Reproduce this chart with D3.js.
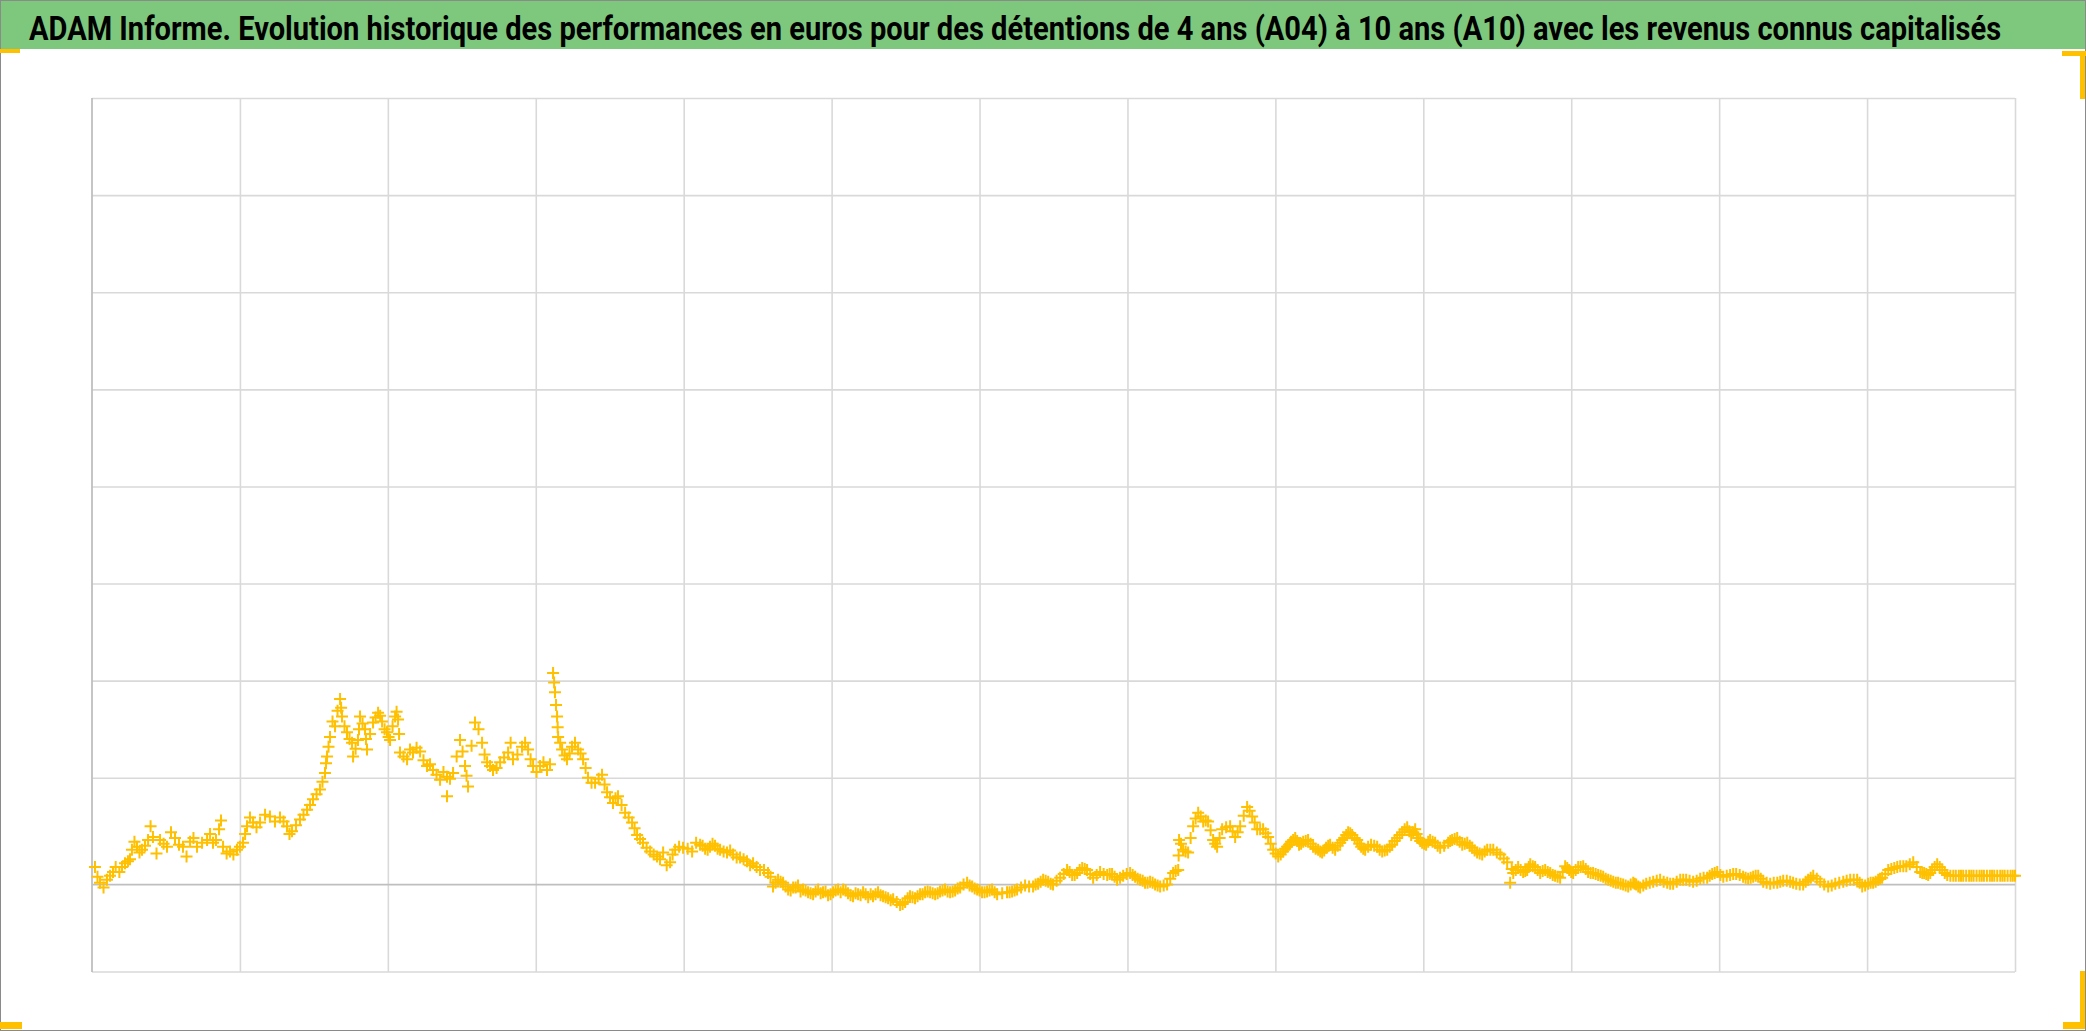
<!DOCTYPE html>
<html>
<head>
<meta charset="utf-8">
<script src="https://cdn.jsdelivr.net/npm/d3@7"></script>
<style>
  html, body { margin: 0; padding: 0; background: #ffffff; }
  svg { display: block; }
</style>
</head>
<body>
<svg id="chart" width="2086" height="1031"></svg>
<script>
// ---------- DATA ----------
const title = "ADAM Informe. Evolution historique des performances en euros pour des détentions de 4 ans (A04) à 10 ans (A10) avec les revenus connus capitalisés";

// time (years since start) of each observation — first reading pass
const years = [
  0.020,0.054,0.101,0.142,0.203,0.243,0.270,0.304,0.338,0.379,
  0.412,0.460,0.507,0.561,0.615,0.663,0.710,0.778,0.818,0.859,
  0.886,0.933,0.980,1.021,1.048,1.089,1.136,1.203,1.271,1.318,
  1.352,1.406,1.454,1.494,1.541,1.575,1.589,1.609,1.643,1.677,
  1.690,1.724,1.758,1.765,1.798,1.812,1.846,1.859,1.900,1.934,
  1.961,1.994,2.015,2.049,2.069,2.082,2.130,2.170,2.218,2.265,
  2.305,2.353,2.400,2.441,2.488,2.522,2.542,2.589,2.637,2.671,
  2.711,2.759,2.813,2.846,2.907,2.948,2.982,3.029,3.076,
  3.117,3.130,3.144,3.151,3.178,3.211,3.245,3.286,3.320,3.353,
  3.401,3.448,3.482,3.522,3.556,3.604,3.651,3.685,3.725,3.773,
  3.820,3.861,3.908,3.942,3.996,4.057,4.111,4.145,4.178,4.212,
  4.246,4.293,4.334,4.381,4.428,4.469,4.516,4.570,4.604,4.638,
  4.672,4.706,4.740,4.773,4.807,4.841,4.875,4.909,4.942,4.976,
  5.010,5.044,5.078,5.111,5.145,5.179,5.213,5.247,5.280,5.314,
  5.348,5.382,5.416,5.463,5.497,5.530,5.564,5.598,5.632,5.666,
  5.700,5.733,5.767,5.801,5.835,5.869,5.916,5.950,5.984,6.017,
  6.051,6.085,6.119,6.186,6.220,6.254,6.308,6.362,6.396,6.430,
  6.464,6.497,6.545,6.592,6.626,6.660,6.694,6.727,6.768,6.815,
  6.863,6.896,6.930,6.971,7.018,7.052,7.086,7.119,7.153,7.187,
  7.221,7.268,7.309,7.343,7.349,7.376,7.410,7.444,7.478,7.512,
  7.545,7.579,7.606,7.640,7.694,7.728,7.762,7.809,7.843,7.877,
  7.917,7.951,7.985,8.019,8.052,8.079,8.106,8.134,8.160,8.188,
  8.221,8.255,8.289,8.316,8.343,8.370,8.404,8.438,8.465,8.492,
  8.519,8.553,8.580,8.607,8.647,8.688,8.722,8.756,8.789,8.823,
  8.857,8.891,8.918,8.945,8.965,8.992,9.019,9.046,9.080,9.114,
  9.168,9.195,9.229,9.263,9.297,9.330,9.364,9.398,9.432,9.473,
  9.520,9.567,9.587,9.608,9.641,9.675,9.702,9.723,9.756,9.790,
  9.824,9.858,9.891,9.925,9.959,9.986,10.013,10.047,10.081,10.114,
  10.148,10.182,10.216,10.250,10.284,10.317,10.351,10.385,10.419,10.439,
  10.466,10.507,10.554,10.601,10.649,10.689,10.737,10.777,10.824,10.872,
  10.919,10.953,10.987,11.028,11.074,11.115,11.162,11.196,11.230,11.264,
  11.298,11.345,11.393,11.433,11.480,11.521,11.568,11.602,11.636,11.683,
  11.737,11.785,11.839,11.886,11.933,11.967,12.007,12.041,12.075,12.102,
  12.143,12.184,12.224,12.265,12.312,12.359,12.386,12.413,12.440,12.474,
  12.508,12.542,12.583,12.620,12.650,12.690,12.720,12.760,12.790,12.830,
  12.860,12.900,12.930,12.970,13.000
];

// performance (%) of each observation — first reading pass
const perf = [
  1.8,0.2,0.5,1.3,1.8,2.4,3.6,3.9,3.6,4.6,
  4.9,4.6,3.9,4.8,3.9,4.4,3.9,4.6,4.3,5.7,
  3.9,3.4,3.6,4.3,6.0,6.4,6.4,7.0,6.9,6.0,
  5.5,6.7,7.7,8.8,9.8,11.5,13.2,15.2,16.3,19.1,
  17.3,15.7,14.6,13.2,14.9,17.3,16.0,13.9,16.7,17.7,
  16.8,15.7,14.9,17.3,17.0,13.6,12.9,13.6,13.7,12.2,
  11.8,10.8,11.1,11.5,14.9,12.2,10.1,16.7,14.6,12.6,
  11.8,12.6,13.6,12.9,14.2,13.9,12.2,12.2,11.8,
  21.8,19.8,17.3,15.2,13.9,12.9,14.2,13.9,12.9,11.0,
  10.5,11.3,9.5,8.4,9.1,7.4,6.4,5.1,4.3,3.4,
  2.9,3.3,2.3,3.6,3.8,3.4,4.1,3.7,3.9,4.0,
  3.6,3.3,3.1,2.8,2.4,2.2,1.5,1.2,-0.2,0.5,
  0.2,-0.5,-0.3,-0.1,-0.5,-0.8,-1.0,-0.5,-0.8,-1.1,
  -0.8,-0.5,-0.5,-0.9,-1.2,-1.0,-0.8,-1.3,-1.2,-0.8,
  -1.2,-1.4,-1.5,-2.1,-1.8,-1.2,-1.4,-1.0,-0.8,-0.8,
  -1.0,-0.7,-0.5,-0.8,-0.6,-0.3,0.2,-0.2,-0.5,-0.8,
  -0.7,-0.5,-1.0,-0.8,-0.7,-0.5,-0.1,-0.2,0.1,0.5,
  0.3,0.0,0.7,1.5,1.0,1.2,1.7,1.5,0.7,1.3,
  1.0,1.1,0.5,0.9,1.2,0.8,0.5,0.2,0.3,0.0,
  -0.2,0.0,1.2,1.5,4.6,3.6,3.3,6.0,7.4,6.5,
  6.5,4.6,3.9,5.7,6.0,4.9,6.0,8.0,7.0,5.7,
  5.7,4.9,3.6,2.9,3.4,3.9,4.4,4.8,4.1,4.4,
  4.6,3.9,3.6,3.3,3.8,4.1,3.6,4.3,4.8,5.4,
  5.1,4.6,3.9,3.6,4.1,3.9,3.4,3.6,4.1,4.8,
  5.4,5.9,5.1,5.7,4.8,4.3,4.1,4.6,4.3,3.8,
  4.3,4.6,4.8,4.1,4.3,3.8,3.3,3.1,3.6,3.6,
  3.1,2.3,0.2,1.2,1.8,1.3,1.5,2.1,1.8,1.2,
  1.5,1.2,0.9,0.7,1.9,1.5,1.2,1.8,1.9,1.3,
  1.2,1.0,0.8,0.5,0.3,0.2,0.0,-0.2,0.2,0.0,
  -0.3,0.1,0.3,0.5,0.2,0.1,0.5,0.5,0.3,0.6,
  0.7,1.1,1.3,0.8,1.0,1.1,0.8,0.6,0.8,0.9,
  0.3,0.1,0.2,0.4,0.3,0.1,0.0,0.5,0.9,0.3,
  -0.2,0.1,0.3,0.5,0.5,-0.2,0.1,0.2,0.5,0.7,
  1.5,1.7,1.9,1.9,2.3,1.3,1.2,1.0,1.5,2.1,
  1.5,1.0,0.9,0.9,0.9,0.9,0.9,0.9,0.9,0.9,
  0.9,0.9,0.9,0.9,0.9
];

// additional observations read between the first ones — second reading pass
const yearsB = [
  0.037,0.078,0.122,0.160,0.185,0.223,0.257,0.287,0.321,0.358,
  0.396,0.436,0.484,0.534,0.588,0.639,0.686,0.744,0.798,0.838,
  0.872,0.910,0.956,1.000,1.035,1.068,1.112,1.170,1.237,1.295,
  1.335,1.379,1.430,1.474,1.518,1.558,1.582,1.599,1.626,1.660,
  1.684,1.707,1.741,1.782,1.805,1.829,1.852,1.880,1.917,1.948,
  1.978,2.005,2.032,2.059,2.076,2.106,2.150,2.194,2.241,2.285,
  2.329,2.376,2.400,2.420,2.465,2.505,2.532,2.566,2.613,2.654,
  2.691,2.735,2.786,2.830,2.876,2.928,2.965,3.005,3.052,3.096,
  3.124,3.137,3.148,3.165,3.195,3.228,3.265,3.303,3.337,3.377,
  3.425,3.465,3.502,3.539,3.580,3.628,3.668,3.705,3.749,3.797,
  3.840,3.885,3.925,3.969,4.027,4.084,4.128,4.162,4.195,4.229,
  4.270,4.314,4.358,4.405,4.449,4.493,4.543,4.587,4.621,4.655,
  4.689,4.723,4.757,4.790,4.824,4.858,4.892,4.926,4.959,4.993,
  5.027,5.061,5.095,5.128,5.162,5.196,5.230,5.264,5.297,5.331,
  5.365,5.399,5.440,5.480,5.514,5.547,5.581,5.615,5.649,5.683,
  5.717,5.750,5.784,5.818,5.852,5.892,5.933,5.967,6.000,6.034,
  6.068,6.102,6.153,6.203,6.237,6.281,6.335,6.379,6.413,6.447,
  6.481,6.521,6.569,6.609,6.643,6.677,6.711,6.748,6.792,6.839,
  6.880,6.913,6.950,6.995,7.035,7.069,7.103,7.136,7.170,7.204,
  7.245,7.289,7.326,7.346,7.362,7.393,7.427,7.461,7.495,7.529,
  7.562,7.593,7.623,7.667,7.711,7.745,7.786,7.826,7.860,7.897,
  7.934,7.968,8.002,8.036,8.066,8.093,8.120,8.147,8.174,8.205,
  8.238,8.272,8.303,8.330,8.357,8.387,8.421,8.452,8.479,8.506,
  8.536,8.567,8.594,8.627,8.668,8.705,8.739,8.773,8.806,8.840,
  8.874,8.905,8.932,8.955,8.979,9.006,9.033,9.063,9.097,9.141,
  9.182,9.212,9.246,9.280,9.314,9.347,9.381,9.415,9.453,9.497,
  9.544,9.598,9.625,9.658,9.689,9.713,9.740,9.773,9.807,9.841,
  9.875,9.908,9.942,9.973,10.000,10.030,10.064,10.098,10.131,10.165,
  10.199,10.233,10.267,10.301,10.334,10.368,10.402,10.429,10.453,10.487,
  10.531,10.578,10.625,10.669,10.713,10.757,10.800,10.848,10.895,10.936,
  10.970,11.008,11.051,11.095,11.139,11.179,11.213,11.247,11.281,11.321,
  11.369,11.413,11.457,11.500,11.545,11.585,11.619,11.660,11.710,11.761,
  11.812,11.862,11.910,11.950,11.987,12.024,12.058,12.088,12.123,12.164,
  12.204,12.245,12.289,12.336,12.373,12.400,12.427,12.457,12.491,12.525,
  12.563,12.600,12.635,12.670,12.705,12.740,12.775,12.810,12.845,12.880,
  12.915,12.950,12.985
];

const perfB = [
  0.8,-0.3,0.9,1.8,1.3,2.2,2.6,4.4,3.3,4.0,
  6.0,3.2,4.2,5.4,4.1,2.9,4.8,4.3,5.2,4.6,
  6.6,3.2,3.1,3.9,5.2,6.9,5.9,7.2,6.5,6.5,
  5.2,6.1,7.2,8.2,9.3,10.6,12.5,14.2,16.8,17.9,
  18.2,16.3,15.0,14.0,16.0,16.6,15.0,15.5,17.2,17.4,
  16.0,15.2,16.3,17.8,15.5,13.2,13.9,14.1,12.8,12.4,
  11.3,11.6,9.1,10.9,13.2,13.7,11.2,14.3,16.0,13.4,
  12.2,12.0,13.1,14.6,13.4,14.6,12.9,11.6,12.6,12.4,
  20.8,18.5,16.2,14.6,13.3,13.5,14.6,13.5,12.0,10.5,
  10.9,10.3,9.0,8.9,8.2,6.9,5.8,4.7,3.8,3.1,
  2.6,2.0,3.1,3.9,3.7,4.3,4.0,3.6,4.2,3.7,
  3.4,3.5,2.8,2.6,2.0,1.8,1.5,0.8,0.2,0.3,
  -0.2,-0.6,-0.3,-0.7,-0.6,-0.9,-0.7,-0.9,-0.7,-1.0,
  -0.6,-0.8,-0.6,-1.1,-0.9,-1.1,-1.0,-1.0,-1.0,-1.1,
  -1.3,-1.6,-1.8,-2.0,-1.4,-1.3,-1.2,-1.0,-0.7,-0.9,
  -0.9,-0.6,-0.7,-0.7,-0.4,0.0,-0.1,-0.4,-0.6,-0.8,
  -0.6,-0.8,-0.9,-0.8,-0.6,-0.3,-0.2,0.0,0.3,0.4,
  0.1,0.4,1.1,1.3,1.0,1.5,1.6,1.1,1.0,1.1,
  1.1,0.8,0.7,1.1,1.0,0.6,0.4,0.2,0.2,-0.1,
  -0.1,0.6,1.4,3.0,4.2,3.4,4.8,6.8,7.0,6.6,
  5.6,4.2,4.8,5.9,5.5,5.4,7.1,7.6,6.4,5.7,
  5.3,4.2,3.2,3.1,3.7,4.1,4.6,4.5,4.2,4.5,
  4.2,3.7,3.4,3.5,4.0,3.8,4.0,4.6,5.1,5.3,
  4.8,4.2,3.7,3.9,4.0,3.6,3.5,3.9,4.5,5.1,
  5.7,5.5,5.4,5.2,4.5,4.2,4.4,4.4,4.0,4.0,
  4.5,4.7,4.4,4.2,4.0,3.5,3.2,3.4,3.6,3.3,
  2.7,1.6,1.5,1.5,1.4,1.8,1.9,1.5,1.4,1.3,
  1.0,0.8,1.3,1.7,1.3,1.5,1.8,1.6,1.2,1.1,
  0.9,0.6,0.4,0.2,0.1,-0.1,0.0,0.1,-0.2,-0.1,
  0.2,0.4,0.3,0.1,0.3,0.5,0.4,0.4,0.7,0.9,
  1.2,1.0,0.9,1.1,1.0,0.7,0.7,0.9,0.6,0.2,
  0.2,0.3,0.4,0.2,0.0,0.3,0.7,0.6,0.0,-0.1,
  0.2,0.4,0.5,0.2,-0.1,0.2,0.3,0.6,1.1,1.6,
  1.8,1.9,2.1,1.8,1.2,1.1,1.2,1.8,1.8,1.2,
  0.9,0.9,0.9,0.9,0.9,0.9,0.9,0.9,0.9,0.9,
  0.9,0.9,0.9
];

// axis / grid definitions
const xDomain = [0, 13];
const xGridValues = [1,2,3,4,5,6,7,8,9,10,11,12,13];
const yDomain = [-9, 81];
const yGridValues = [11,21,31,41,51,61,71,81];

// ---------- DRAW ----------
const W = 2086, H = 1031;
const plot = { left: 92, right: 2015, top: 98, bottom: 972 };
const svg = d3.select("#chart");

// outer frame
svg.append("rect").attr("x", 0.5).attr("y", 0.5).attr("width", W - 1).attr("height", H - 1)
  .attr("fill", "#ffffff").attr("stroke", "#8a8a8a").attr("stroke-width", 1);

// title band
svg.append("rect").attr("x", 1).attr("y", 1).attr("width", W - 2).attr("height", 48)
  .attr("fill", "#7ec87e");
const titleText = svg.append("text")
  .attr("x", 0).attr("y", 0)
  .attr("font-family", "'Liberation Sans Narrow', 'Roboto', 'Open Sans', sans-serif")
  .attr("font-weight", "bold").attr("font-size", 34).attr("fill", "#000000")
  .text(title);
const naturalW = titleText.node().getComputedTextLength();
const sx = 1973 / naturalW;
titleText.attr("transform", `translate(29,40) scale(${sx},1)`);

// selection handles (gold corner marks)
const gold = "#ffc000";
svg.append("rect").attr("x", 0).attr("y", 49).attr("width", 20).attr("height", 4).attr("fill", gold);
svg.append("rect").attr("x", 2062).attr("y", 51).attr("width", 24).attr("height", 5).attr("fill", gold);
svg.append("rect").attr("x", 2080).attr("y", 51).attr("width", 5).attr("height", 48).attr("fill", gold);
svg.append("rect").attr("x", 2080).attr("y", 971).attr("width", 5).attr("height", 58).attr("fill", gold);
svg.append("rect").attr("x", 2063).attr("y", 1022).attr("width", 22).attr("height", 7).attr("fill", gold);
svg.append("rect").attr("x", 0).attr("y", 1022).attr("width", 22).attr("height", 7).attr("fill", gold);

const x = d3.scaleLinear().domain(xDomain).range([plot.left, plot.right]);
const y = d3.scaleLinear().domain(yDomain).range([plot.bottom, plot.top]);

// vertical gridlines
svg.append("g")
  .attr("transform", `translate(0,${plot.bottom})`)
  .call(d3.axisBottom(x).tickValues(xGridValues).tickSize(-(plot.bottom - plot.top)).tickFormat(""))
  .call(g => g.select(".domain").remove())
  .call(g => g.selectAll(".tick line").attr("stroke", "#d9d9d9").attr("stroke-width", 1.6));

// horizontal gridlines
svg.append("g")
  .attr("transform", `translate(${plot.left},0)`)
  .call(d3.axisLeft(y).tickValues(yGridValues).tickSize(-(plot.right - plot.left)).tickFormat(""))
  .call(g => g.select(".domain").remove())
  .call(g => g.selectAll(".tick line").attr("stroke", "#d9d9d9").attr("stroke-width", 1.6));

// bottom border of plot (axis minimum)
svg.append("line")
  .attr("x1", plot.left).attr("x2", plot.right)
  .attr("y1", y(yDomain[0])).attr("y2", y(yDomain[0]))
  .attr("stroke", "#d9d9d9").attr("stroke-width", 1.6);

// left value axis line
svg.append("line")
  .attr("x1", plot.left).attr("x2", plot.left)
  .attr("y1", plot.top).attr("y2", plot.bottom)
  .attr("stroke", "#bfbfbf").attr("stroke-width", 1.8);

// horizontal category axis at 0
svg.append("line")
  .attr("x1", plot.left).attr("x2", plot.right)
  .attr("y1", y(0)).attr("y2", y(0))
  .attr("stroke", "#bfbfbf").attr("stroke-width", 1.8);

// markers '+'
const pts = d3.zip(years, perf).concat(d3.zip(yearsB, perfB));
svg.append("g")
  .selectAll("path")
  .data(pts)
  .join("path")
  .attr("transform", d => `translate(${x(d[0])},${y(d[1])})`)
  .attr("d", "M-6,0H6M0,-6V6")
  .attr("fill", "none")
  .attr("stroke", gold)
  .attr("stroke-width", 2);
</script>
</body>
</html>
